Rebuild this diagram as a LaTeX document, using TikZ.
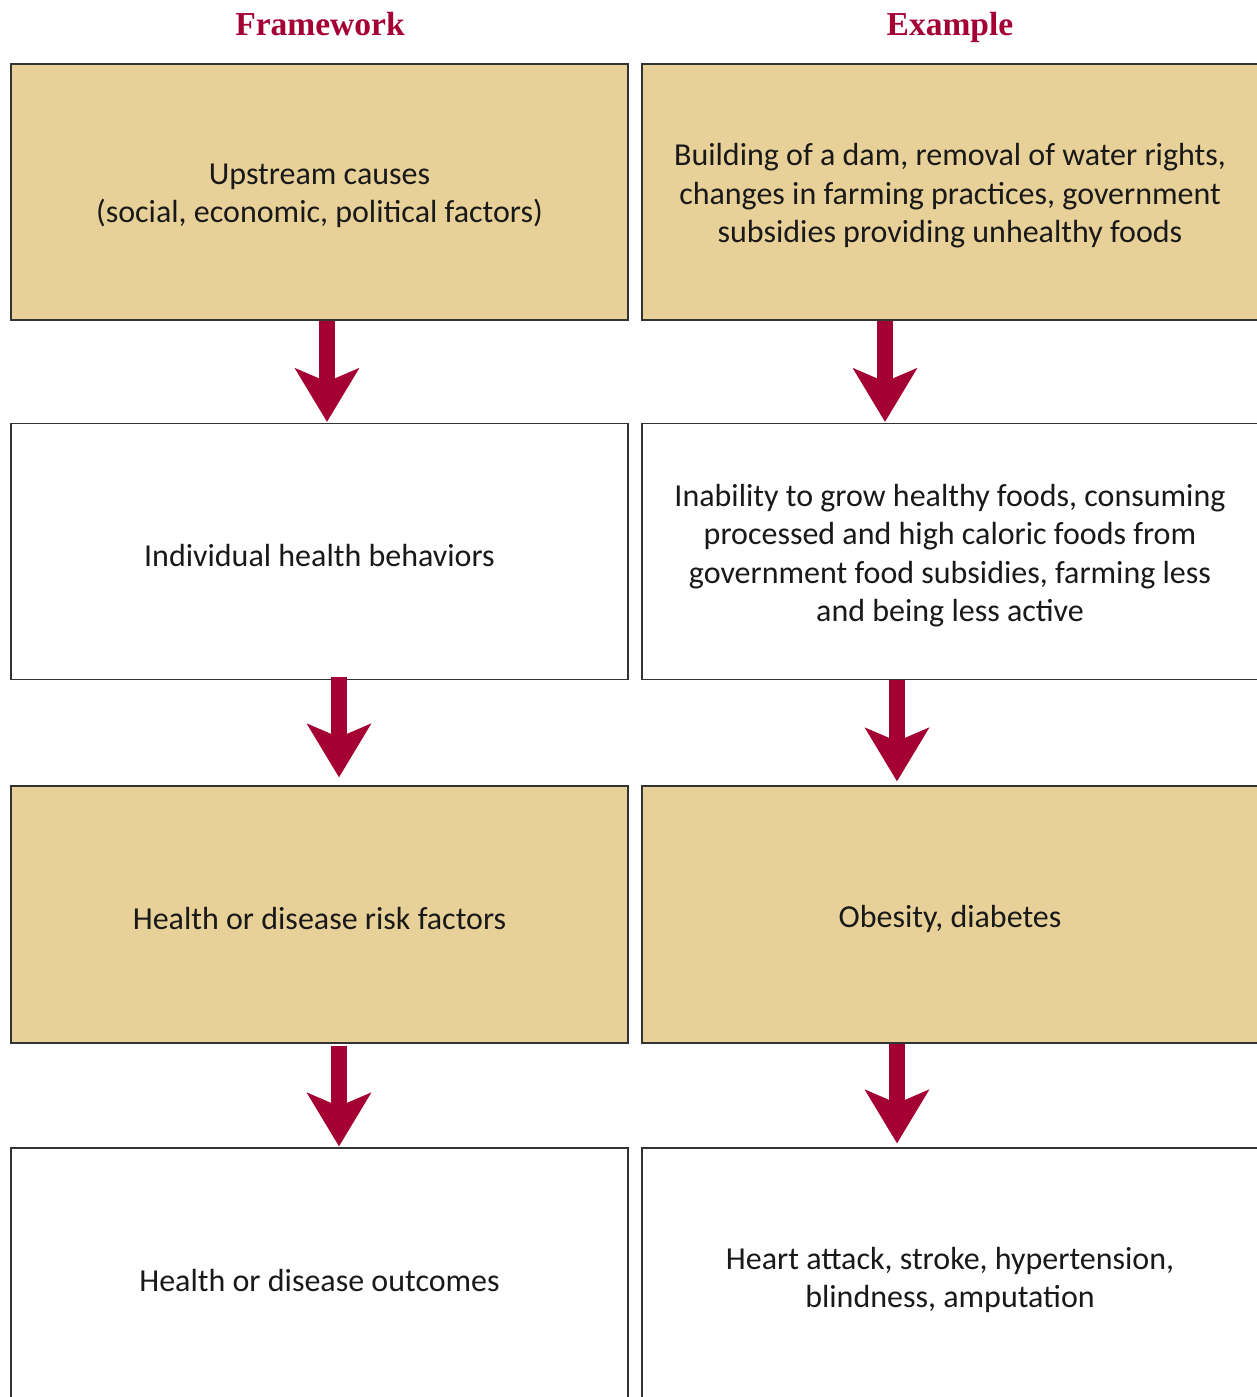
\documentclass[tikz,border=0pt]{standalone}
\usepackage{fontspec}
\setmainfont{Carlito}
\newfontfamily\headfont{Liberation Serif}
\usetikzlibrary{arrows.meta,calc}
\definecolor{tan}{RGB}{232,209,153}
\definecolor{dred}{RGB}{165,0,52}
\definecolor{edge}{RGB}{51,51,51}
\tikzset{
  box/.style={draw=edge,line width=1.4pt,minimum width=617pt,minimum height=256pt,inner sep=0pt},
  tanbox/.style={box,fill=tan},
  whitebox/.style={box,fill=white},
  txt/.style={align=center,inner sep=0pt,font=\fontsize{32}{38.5}\selectfont,text=black!90},
  head/.style={font=\headfont\bfseries\fontsize{33.5}{38}\selectfont,text=dred,anchor=base},
  bigarrow/.style={draw=dred,line width=16.5pt,
    -{Stealth[length=54pt,width=65pt,inset=14pt,line width=0pt,fill=dred]}}
}
\begin{document}
\begin{tikzpicture}[x=1pt,y=-1pt]
\useasboundingbox (0,0) rectangle (1257,1397);
\node[head] (h1) at (320,36) {Framework};
\node[head] (h2) at (950,36) {Example};
\node[tanbox] (L1) at (319.5,192) {};
\node[tanbox,minimum width=620pt] (R1) at (952,192) {};
\node[whitebox] (L2) at (319.5,551.5) {};
\node[whitebox,minimum width=620pt] (R2) at (952,551.5) {};
\node[tanbox,minimum height=257pt] (L3) at (319.5,914.5) {};
\node[tanbox,minimum width=620pt,minimum height=257pt] (R3) at (952,914.5) {};
\node[whitebox,minimum height=256pt] (L4) at (319.5,1276) {};
\node[whitebox,minimum width=620pt,minimum height=256pt] (R4) at (952,1276) {};
\node[txt] (tL1) at ($(L1)+(0,4)$) {Upstream causes\\(social, economic, political factors)};
\node[txt] (tR1) at ($(R1)+(-2,4)$) {Building of a dam, removal of water rights,\\changes in farming practices, government\\subsidies providing unhealthy foods};
\node[txt] (tL2) at ($(L2)+(0,4)$) {Individual health behaviors};
\node[txt] (tR2) at ($(R2)+(-2,4)$) {Inability to grow healthy foods, consuming\\processed and high caloric foods from\\government food subsidies, farming less\\and being less active};
\node[txt] (tL3) at ($(L3)+(0,4)$) {Health or disease risk factors};
\node[txt] (tR3) at ($(R3)+(-2,4)$) {Obesity, diabetes};
\node[txt] (tL4) at ($(L4)+(0,4)$) {Health or disease outcomes};
\node[txt] (tR4) at ($(R4)+(-2,4)$) {Heart attack, stroke, hypertension,\\blindness, amputation};
\draw[bigarrow] ($(L1.south)+(7.5,0)$) -- ($(L2.north)+(7.5,-1)$);
\draw[bigarrow] ($(R1.south)+(-67,0)$) -- ($(R2.north)+(-67,-1)$);
\draw[bigarrow] ($(L2.south)+(19.5,-3)$) -- ($(L3.north)+(19.5,-8)$);
\draw[bigarrow] ($(R2.south)+(-55,0)$) -- ($(R3.north)+(-55,-4)$);
\draw[bigarrow] ($(L3.south)+(19.5,2)$) -- ($(L4.north)+(19.5,-1)$);
\draw[bigarrow] ($(R3.south)+(-55,0)$) -- ($(R4.north)+(-55,-4)$);
\end{tikzpicture}
\end{document}
